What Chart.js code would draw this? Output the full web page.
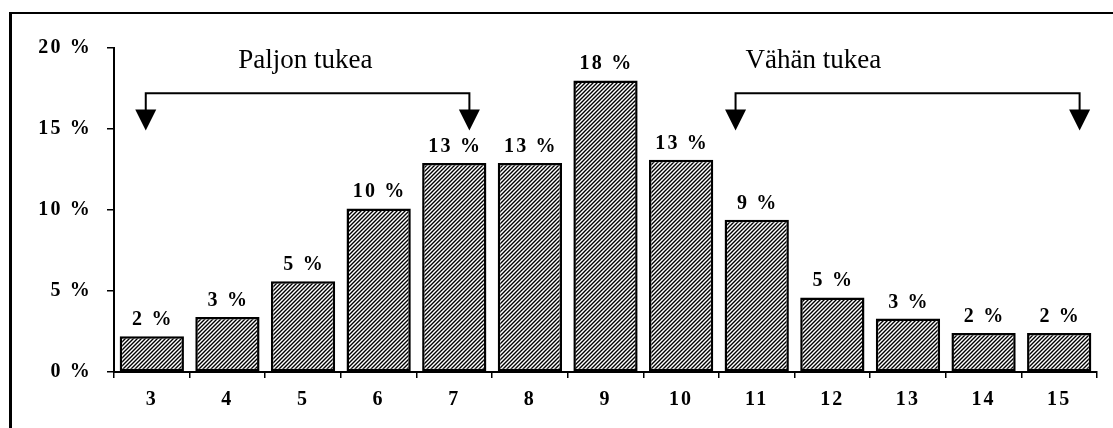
<!DOCTYPE html>
<html>
<head>
<meta charset="utf-8">
<script src="https://cdn.jsdelivr.net/npm/chart.js@4"></script>
<style>
  body { margin: 0; background: #fff; overflow: hidden; }
  #frame { position: absolute; left: 9px; top: 12px; width: 1300px; height: 600px;
           border-left: 3px solid #000; border-top: 2px solid #000; }
  #chart { position: absolute; left: 0; top: 0; }
</style>
</head>
<body>
<div id="frame"></div>
<canvas id="chart" width="1113" height="428"></canvas>
<script>
const categories = ["3", "4", "5", "6", "7", "8", "9", "10", "11", "12", "13", "14", "15"];
const shares = [2.2, 3.4, 5.6, 10.1, 12.9, 12.9, 18.0, 13.1, 9.4, 4.6, 3.3, 2.4, 2.4];
const shareLabels = ["2 %", "3 %", "5 %", "10 %", "13 %", "13 %", "18 %", "13 %", "9 %", "5 %", "3 %", "2 %", "2 %"];
const yTicks = [0, 5, 10, 15, 20];
const groupNames = ["Paljon tukea", "Vähän tukea"];
const groupFrom = ["3", "11"];
const groupTo = ["7", "15"];

const serif = '"Liberation Serif", "Times New Roman", serif';
const tracking = "2.2px";

// diagonal hatch fill like the old print
function hatch() {
  const c = document.createElement("canvas");
  c.width = 4; c.height = 4;
  const g = c.getContext("2d");
  g.fillStyle = "#fff";
  g.fillRect(0, 0, 4, 4);
  g.strokeStyle = "#000";
  g.lineWidth = 1.4;
  g.beginPath();
  g.moveTo(-1, 5); g.lineTo(5, -1);
  g.moveTo(-1, 1); g.lineTo(1, -1);
  g.moveTo(3, 5); g.lineTo(5, 3);
  g.stroke();
  return g.createPattern(c, "repeat");
}

const spacing = {
  id: "spacing",
  beforeUpdate(chart) { chart.ctx.letterSpacing = tracking; },
  beforeDraw(chart) { chart.ctx.letterSpacing = tracking; }
};

const barLabels = {
  id: "barLabels",
  afterDatasetsDraw(chart) {
    const ctx = chart.ctx;
    ctx.save();
    ctx.letterSpacing = tracking;
    ctx.font = "bold 20px " + serif;
    ctx.fillStyle = "#000";
    ctx.textAlign = "center";
    ctx.textBaseline = "alphabetic";
    chart.getDatasetMeta(0).data.forEach((bar, i) => {
      ctx.fillText(shareLabels[i], bar.x + 1, bar.y - 11);
    });
    ctx.restore();
  }
};

// brackets with arrows over the two groups
const groups = {
  id: "groups",
  afterDraw(chart, args, opts) {
    const ctx = chart.ctx;
    const x = chart.scales.x, y = chart.scales.y;
    const w = x.width / categories.length;
    const lineY = y.getPixelForValue(17.2);
    const tipY = y.getPixelForValue(14.9);
    const textY = y.getPixelForValue(18.75);
    ctx.save();
    ctx.letterSpacing = "0px";
    ctx.strokeStyle = "#000";
    ctx.fillStyle = "#000";
    ctx.lineWidth = 2;
    groupNames.forEach((name, i) => {
      const x1 = x.getPixelForValue(categories.indexOf(groupFrom[i])) + opts.startShift[i] * w;
      const x2 = x.getPixelForValue(categories.indexOf(groupTo[i])) + opts.endShift[i] * w;
      ctx.beginPath();
      ctx.moveTo(x1, tipY - 20);
      ctx.lineTo(x1, lineY);
      ctx.lineTo(x2, lineY);
      ctx.lineTo(x2, tipY - 20);
      ctx.stroke();
      [x1, x2].forEach(ax => {
        ctx.beginPath();
        ctx.moveTo(ax - 10.5, tipY - 21);
        ctx.lineTo(ax + 10.5, tipY - 21);
        ctx.lineTo(ax, tipY);
        ctx.closePath();
        ctx.fill();
      });
      ctx.font = "27px " + serif;
      ctx.textAlign = "center";
      ctx.textBaseline = "alphabetic";
      const tx = x.getPixelForValue(categories.indexOf(groupFrom[i])) + opts.textShift[i] * w;
      ctx.fillText(name, tx, textY);
    });
    ctx.restore();
  }
};

const tickFont = { family: serif, size: 20, weight: "bold" };

new Chart(document.getElementById("chart"), {
  type: "bar",
  data: {
    labels: categories,
    datasets: [{
      data: shares,
      backgroundColor: hatch(),
      borderColor: "#000",
      borderWidth: 2.5,
      borderSkipped: false,
      barPercentage: 0.85,
      categoryPercentage: 1
    }]
  },
  options: {
    responsive: false,
    animation: false,
    devicePixelRatio: 1,
    layout: { padding: { left: 0, right: 16, top: 48, bottom: 0 } },
    plugins: {
      legend: { display: false },
      tooltip: { enabled: false },
      groups: { startShift: [-0.08, -0.28], endShift: [0.2, 0.27], textShift: [2.03, 0.75] }
    },
    scales: {
      x: {
        grid: { offset: true, drawOnChartArea: false, tickLength: 6, color: "#000", lineWidth: 1.5 },
        border: { color: "#000", width: 2 },
        ticks: { color: "#000", font: tickFont, padding: 10, maxRotation: 0 },
        afterFit: s => { s.height = 56; }
      },
      y: {
        min: 0,
        max: 20,
        afterBuildTicks: s => { s.ticks = yTicks.map(v => ({ value: v })); },
        grid: { drawOnChartArea: false, tickLength: 7, color: "#000", lineWidth: 1.5 },
        border: { color: "#000", width: 2 },
        ticks: { color: "#000", font: tickFont, padding: 15, callback: v => v + " %" },
        afterFit: s => { s.width = 114; }
      }
    }
  },
  plugins: [spacing, barLabels, groups]
});
</script>
</body>
</html>
